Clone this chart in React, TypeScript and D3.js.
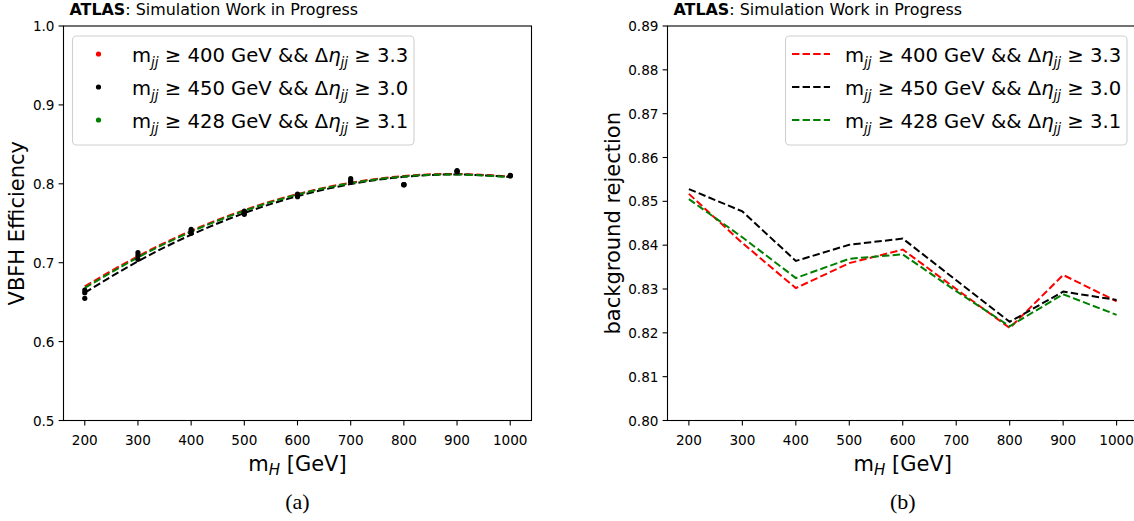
import React from 'react';
import * as d3 from 'd3';

// ---------- data ----------
const masses = [200, 300, 400, 500, 600, 700, 800, 900, 1000];

// left panel: measured VBFH efficiency points
const effPtsRed = [0.6654, 0.7127, 0.7423, 0.7655, 0.787, 0.8065, 0.7989, 0.8166, 0.8108];
const effPtsBlack = [0.6549, 0.7043, 0.7373, 0.7613, 0.7837, 0.8019, 0.7989, 0.815, 0.81];
const effPtsGreen = [0.662, 0.709, 0.74, 0.764, 0.7855, 0.804, 0.7989, 0.816, 0.8104];

// left panel: fitted curves (dashed)
const effFitRed = [0.67, 0.7082, 0.7404, 0.7667, 0.787, 0.8014, 0.8099, 0.8125, 0.8091];
const effFitBlack = [0.662, 0.7018, 0.7354, 0.7629, 0.7843, 0.7996, 0.8088, 0.8118, 0.8087];
const effFitGreen = [0.668, 0.7067, 0.7393, 0.7658, 0.7863, 0.8008, 0.8093, 0.8118, 0.8084];

// right panel: background rejection
const rejRed = [0.8517, 0.8405, 0.8302, 0.8359, 0.839, 0.83, 0.8211, 0.8332, 0.8272];
const rejBlack = [0.8528, 0.8477, 0.8364, 0.8401, 0.8415, 0.832, 0.8225, 0.8294, 0.8275];
const rejGreen = [0.8505, 0.8418, 0.8325, 0.8369, 0.8379, 0.8295, 0.8215, 0.8288, 0.8241];

const leftYTicks = [0.5, 0.6, 0.7, 0.8, 0.9, 1.0];
const rightYTicks = [0.8, 0.81, 0.82, 0.83, 0.84, 0.85, 0.86, 0.87, 0.88, 0.89];

const seriesCuts = [
  { mjj: '400', deta: '3.3', color: '#ff0000' },
  { mjj: '450', deta: '3.0', color: '#000000' },
  { mjj: '428', deta: '3.1', color: '#008000' },
];

const FONT = '"DejaVu Sans", sans-serif';
const DASH = '7.4,3.2';

type Box = { left: number; right: number; top: number; bottom: number };

const LBOX: Box = { left: 63.5, right: 531.5, top: 26, bottom: 420.5 };
const RBOX: Box = { left: 667.5, right: 1138, top: 26, bottom: 420.5 };

function CutLabel({ x, y, mjj, deta }: { x: number; y: number; mjj: string; deta: string }) {
  const sub = 5;
  return (
    <text x={x} y={y} fontFamily={FONT} fontSize={19.6} style={{ whiteSpace: 'pre' }}>
      <tspan>m</tspan>
      <tspan fontStyle="italic" fontSize={13.5} dy={sub}>jj</tspan>
      <tspan dy={-sub}>{' \u2265 ' + mjj + ' GeV && \u0394'}</tspan>
      <tspan fontStyle="italic">{'\u03b7'}</tspan>
      <tspan fontStyle="italic" fontSize={13.5} dy={sub}>jj</tspan>
      <tspan dy={-sub}>{' \u2265 ' + deta}</tspan>
    </text>
  );
}

function Axes({
  box, yDomain, yTicks, yFmt, ylabel, ylabelX, panel, children,
}: {
  box: Box; yDomain: [number, number]; yTicks: number[]; yFmt: (v: number) => string;
  ylabel: string; ylabelX: number; panel: string; children: (x: d3.ScaleLinear<number, number>, y: d3.ScaleLinear<number, number>) => React.ReactNode;
}) {
  const x = d3.scaleLinear().domain([160, 1040]).range([box.left, box.right]);
  const y = d3.scaleLinear().domain(yDomain).range([box.bottom, box.top]);
  const cx = (box.left + box.right) / 2;
  const cy = (box.top + box.bottom) / 2;
  const clipId = 'clip-' + panel.replace(/[()]/g, '');
  return (
    <g>
      <defs>
        <clipPath id={clipId}>
          <rect x={box.left} y={box.top} width={box.right - box.left} height={box.bottom - box.top} />
        </clipPath>
      </defs>
      <g clipPath={`url(#${clipId})`}>{children(x, y)}</g>
      <rect x={box.left} y={box.top} width={box.right - box.left} height={box.bottom - box.top}
        fill="none" stroke="#000" strokeWidth={1.1} />
      {masses.map((m) => (
        <g key={m}>
          <line x1={x(m)} x2={x(m)} y1={box.bottom} y2={box.bottom + 4.9} stroke="#000" strokeWidth={1.1} />
          <text x={x(m)} y={box.bottom + 24} textAnchor="middle" fontFamily={FONT} fontSize={13.6} fill="#000">{m}</text>
        </g>
      ))}
      {yTicks.map((t) => (
        <g key={t}>
          <line x1={box.left - 4.9} x2={box.left} y1={y(t)} y2={y(t)} stroke="#000" strokeWidth={1.1} />
          <text x={box.left - 9} y={y(t) + 5} textAnchor="end" fontFamily={FONT} fontSize={13.6} fill="#000">{yFmt(t)}</text>
        </g>
      ))}
      <text x={box.left + 6} y={box.top - 11} fontFamily={FONT} fontSize={15.9} fill="#000">
        <tspan fontWeight="bold">ATLAS</tspan>: Simulation Work in Progress
      </text>
      <text transform={`translate(${ylabelX},${cy}) rotate(-90)`} textAnchor="middle" fontFamily={FONT} fontSize={21} fill="#000">{ylabel}</text>
      <text x={cx} y={471} textAnchor="middle" fontFamily={FONT} fontSize={21} fill="#000">
        <tspan>m</tspan>
        <tspan fontStyle="italic" fontSize={15} dy={4}>H</tspan>
        <tspan dy={-4}>{' [GeV]'}</tspan>
      </text>
      <text x={cx} y={509} textAnchor="middle" fontFamily='"Liberation Serif", "DejaVu Serif", serif' fontSize={22} fill="#000">{panel}</text>
    </g>
  );
}

export default function App() {
  const effPts = [effPtsRed, effPtsBlack, effPtsGreen];
  const effFits = [effFitRed, effFitBlack, effFitGreen];
  const rejs = [rejRed, rejBlack, rejGreen];
  const rowY = [55, 88, 121];
  return (
    <svg width={1134} height={521} style={{ position: 'absolute', left: 0, top: 0, background: '#fff' }}>
      <rect x={0} y={0} width={1134} height={521} fill="#fff" />
      <Axes box={LBOX} yDomain={[0.5, 1.0]} yTicks={leftYTicks} yFmt={(v) => v.toFixed(1)}
        ylabel="VBFH Efficiency" ylabelX={24} panel="(a)">
        {(x, y) => {
          const line = d3.line<number>().x((_, i) => x(masses[i])).y((v) => y(v)).curve(d3.curveNatural);
          return (
            <g>
              {effFits.map((f, k) => (
                <path key={k} d={line(f) || ''} fill="none" stroke={seriesCuts[k].color} strokeWidth={2} strokeDasharray={DASH} />
              ))}
              {effPts.map((pts, k) => pts.map((v, i) => (
                <circle key={`${k}-${i}`} cx={x(masses[i])} cy={y(v)} r={2.6} fill="#000" />
              )))}
            </g>
          );
        }}
      </Axes>
      <Axes box={RBOX} yDomain={[0.8, 0.89]} yTicks={rightYTicks} yFmt={(v) => v.toFixed(2)}
        ylabel="background rejection" ylabelX={620} panel="(b)">
        {(x, y) => {
          const line = d3.line<number>().x((_, i) => x(masses[i])).y((v) => y(v));
          return (
            <g>
              {rejs.map((r, k) => (
                <path key={k} d={line(r) || ''} fill="none" stroke={seriesCuts[k].color} strokeWidth={2} strokeDasharray={DASH} />
              ))}
            </g>
          );
        }}
      </Axes>
      {/* left legend */}
      <rect x={72.5} y={36} width={341.5} height={109} rx={4} fill="#fff" fillOpacity={0.8} stroke="#d0d0d0" strokeWidth={1.1} />
      {seriesCuts.map((s, k) => (
        <g key={k}>
          <circle cx={98.5} cy={rowY[k] - 1} r={2.6} fill={s.color} />
          <CutLabel x={132} y={rowY[k] + 7} mjj={s.mjj} deta={s.deta} />
        </g>
      ))}
      {/* right legend */}
      <rect x={785.5} y={36} width={341.5} height={109} rx={4} fill="#fff" fillOpacity={0.8} stroke="#d0d0d0" strokeWidth={1.1} />
      {seriesCuts.map((s, k) => (
        <g key={k}>
          <line x1={792} x2={830} y1={rowY[k] - 1} y2={rowY[k] - 1} stroke={s.color} strokeWidth={2} strokeDasharray={DASH} />
          <CutLabel x={845} y={rowY[k] + 7} mjj={s.mjj} deta={s.deta} />
        </g>
      ))}
    </svg>
  );
}
